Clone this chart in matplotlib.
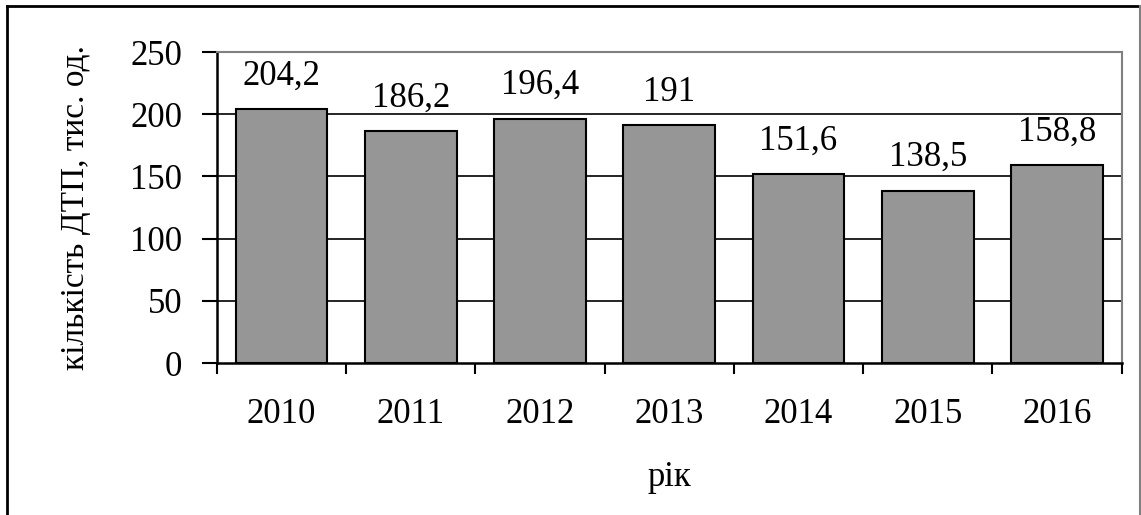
import matplotlib.pyplot as plt
from matplotlib.lines import Line2D

years = ["2010", "2011", "2012", "2013", "2014", "2015", "2016"]
accidents = [204.2, 186.2, 196.4, 191, 151.6, 138.5, 158.8]
y_ticks = [0, 50, 100, 150, 200, 250]

plt.rcParams["font.family"] = ["Liberation Serif", "DejaVu Serif"]

fig = plt.figure(figsize=(11.41, 5.15), dpi=100)
ax = fig.add_axes([0.190, 0.295, 0.793, 0.604])

x = range(len(years))
ax.bar(x, accidents, width=0.71, color="#969696", edgecolor="black",
       linewidth=1.5, zorder=3)

for i, v in enumerate(accidents):
    ax.annotate(f"{v:g}".replace(".", ","), (i, v), xytext=(0, 12),
                textcoords="offset points", ha="center", va="bottom",
                fontsize=25)

ax.set_xlim(-0.5, len(years) - 0.5)
ax.set_ylim(0, 250)
ax.set_yticks(y_ticks)
ax.set_yticklabels([str(t) for t in y_ticks], fontsize=25)
ax.set_xticks(list(x))
ax.set_xticklabels(years, fontsize=25)
ax.set_xticks([i - 0.5 for i in range(len(years) + 1)], minor=True)

ax.tick_params(axis="y", direction="out", length=11, width=1.5, pad=14)
ax.tick_params(axis="x", which="major", length=0, pad=25)
ax.tick_params(axis="x", which="minor", direction="out", length=8, width=1.5)

for t in [50, 100, 150, 200]:
    ax.axhline(t, color="black", linewidth=1.2, zorder=1)

ax.spines["left"].set_linewidth(1.8)
ax.spines["bottom"].set_linewidth(1.8)
for s in ["top", "right"]:
    ax.spines[s].set_color("#808080")
    ax.spines[s].set_linewidth(1.5)

ax.set_ylabel("кількість ДТП, тис. од.", fontsize=24, labelpad=28)
ax.set_xlabel("рік", fontsize=25, labelpad=22)

# outer chart frame
fw, fh = 1141, 515
fig.add_artist(Line2D([7 / fw, 7 / fw], [0, 1 - 6 / fh], color="black",
                      linewidth=2, transform=fig.transFigure))
fig.add_artist(Line2D([7 / fw, 1140 / fw], [1 - 6 / fh, 1 - 6 / fh],
                      color="black", linewidth=2, transform=fig.transFigure))
fig.add_artist(Line2D([1140 / fw, 1140 / fw], [0, 1 - 6 / fh], color="#808080",
                      linewidth=1.5, transform=fig.transFigure))

fig.savefig("out.png", dpi=100)
